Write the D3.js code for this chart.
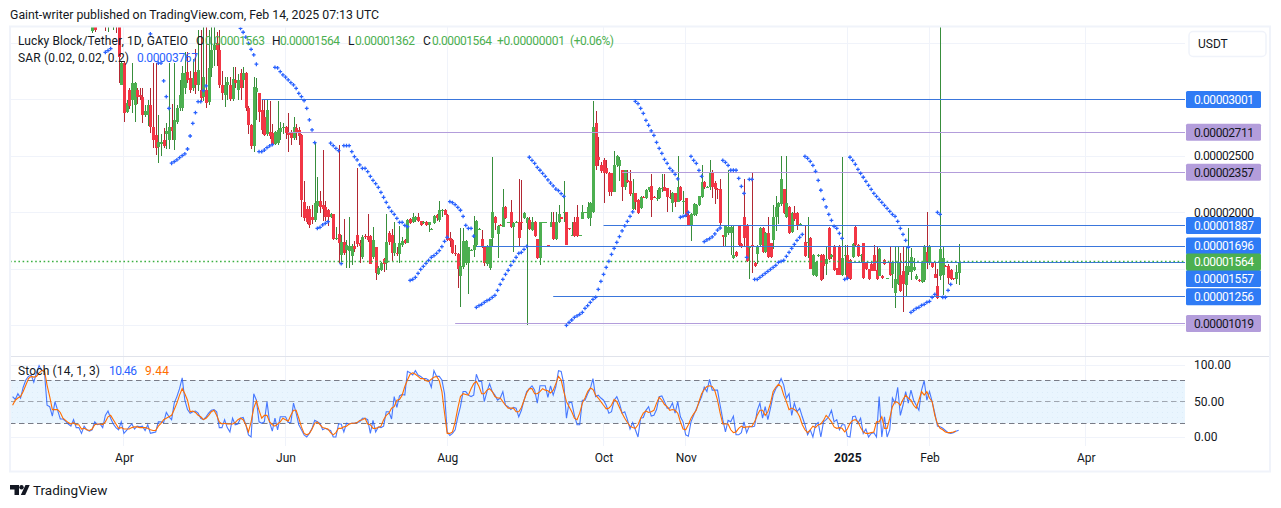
<!DOCTYPE html>
<html><head><meta charset="utf-8">
<script src="https://cdn.jsdelivr.net/npm/d3@7"></script>
<style>html,body{margin:0;padding:0;background:#fff}svg{display:block}text{font-family:Roboto,sans-serif;font-size:12px;fill:#131722}</style>
</head><body><div id="chart"></div>
<script>
// prices are in units of 0.00000001 USDT; bar numbers count days from the left edge of the chart
const firstCandleBar = 30;
const opens = [
3610,3750,3750,3800,3900,3800,3720,3800,3720,3780,
3640,3130,3322,2894,3085,2997,2953,3085,3041,3027,
2864,2864,2953,2761,2687,2584,2610,2643,2700,2643,
2760,2643,2805,2923,2923,3100,3248,3190,3100,3248,
3130,3085,3027,3085,2982,3277,3440,3500,3440,3130,
3041,3130,3130,3003,3174,3085,3233,3174,3233,2923,
2776,2593,3070,3056,2908,2850,2693,2717,2708,2608,
2614,2717,2746,2761,2702,2702,2664,2746,2732,2687,
2091,2030,2030,1964,1935,2059,2106,2068,2053,2023,
1964,1988,1764,1811,1628,1740,1670,1660,1616,1705,
1802,1728,1610,1793,1793,1793,1605,1693,1457,1493,
1587,1551,1817,1802,1640,1640,1634,1714,1758,1734,
1941,1920,1935,1964,1926,1905,1917,1890,1850,1911,
1979,1935,2018,2023,1979,1773,1758,1646,1634,1439,
1522,1551,1551,1664,1669,1714,1852,1767,1699,1546,
1507,1772,1961,1811,1890,1876,2053,1912,2006,1876,
1914,1917,1917,1953,1911,1935,1846,1917,1767,1595,
1912,1912,1711,1876,1917,1767,1914,1961,2001,2006,
1860,1798,1917,1961,1797,1944,2000,1950,1950,2003,
2796,2495,2422,2466,2392,2354,2348,2185,2422,2413,
2377,2230,2289,2283,2029,2171,2112,2038,2141,2133,
2200,2236,2141,2121,2127,2215,2224,2215,2141,2082,
2171,2097,2230,2100,2127,1979,1882,1979,1988,2068,
2141,2274,2224,2230,2363,2260,2209,2209,1799,1787,
1817,1823,1599,1652,1882,1722,1958,1888,1694,1710,
1557,1634,1714,1864,1655,1823,1728,1758,1958,2047,
2076,2206,1958,2047,1832,1994,1994,1893,1808,1743,
1738,1776,1448,1442,1616,1625,1622,1545,1864,1605,
1705,1507,1705,1448,1616,1625,1581,1610,1870,1714,
1619,1731,1557,1498,1546,1625,1492,1442,1442,1581,
1415,1557,1457,1289,1368,1448,1484,1360,1478,1478,
1492,1413,1404,1389,1404,1654,1551,1551,1457,1351,
1442,1448,1530,1528,1492,1419,1413,1463];
const closes = [
3700,3620,3850,3900,3800,3750,3800,3720,3780,3640,
3380,3320,2880,2968,2940,3145,3145,3027,3020,2864,
2900,2953,2761,2643,2569,2628,2628,2593,2720,2761,
2720,2820,2923,3041,3233,3233,3174,3085,3190,3130,
3262,3012,3204,2968,3277,3440,3484,3440,3130,3056,
3130,3160,3003,3183,3145,3174,3100,3233,2923,2776,
2593,3115,3100,2894,2732,2687,2908,2680,2599,2711,
2732,2746,2761,2702,2687,2664,2761,2717,2679,2112,
1950,1920,1890,1935,2083,2106,2053,2032,1964,1964,
1988,1764,1775,1734,1740,1640,1714,1705,1705,1675,
1722,1705,1787,1781,1758,1546,1758,1469,1513,1551,
1546,1740,1740,1640,1728,1634,1728,1749,1734,1935,
1911,1964,1964,1926,1890,1920,1890,1917,1855,1970,
1950,2023,2023,1979,1758,1752,1640,1640,1500,1527,
1749,1749,1693,1669,1714,1929,1857,1699,1551,1705,
1767,2006,1906,1882,1885,2053,1950,1917,1876,1911,
1920,1773,1910,2000,1950,1855,1917,1794,1595,1914,
1917,1917,1706,1914,1770,1914,1988,1947,2006,1714,
1855,1803,1796,1796,1802,2006,2006,2053,2082,2761,
2413,2466,2368,2348,2348,2185,2185,2422,2501,2466,
2230,2377,2274,2165,2177,2097,2000,2141,2135,2200,
2224,2112,2135,2127,2221,2221,2194,2141,2135,2171,
2097,2230,2112,2106,1976,1890,1988,2077,2068,2147,
2274,2224,2230,2363,2230,2206,2203,1905,1787,1882,
1870,1870,1622,1616,1714,1699,1772,1575,1699,1705,
1528,1705,1864,1652,1823,1610,1610,1958,2047,2082,
2295,2000,2082,1823,2000,1941,1891,1899,1802,1616,
1743,1504,1625,1566,1622,1404,1530,1587,1587,1622,
1492,1451,1451,1596,1622,1419,1413,1722,1714,1616,
1625,1422,1498,1413,1487,1487,1413,1678,1419,1546,
1419,1448,1551,1413,1551,1306,1368,1528,1528,1610,
1522,1442,1398,1563,1699,1575,1699,1516,1425,1248,
1678,1599,1525,1419,1413,1413,1472,1564];
const highs = [
3750,3800,3900,3950,3950,3900,3850,3850,3800,3800,
3650,3340,3340,3000,3100,3322,3160,3100,3100,3100,
2950,3000,3100,3322,3322,2860,2700,2746,2790,3322,
2960,3322,2950,3173,3300,3420,3420,3250,3360,3450,
3620,3620,3650,3650,3620,3700,3700,3600,3620,3250,
3204,3200,3200,3290,3290,3230,3270,3290,3240,2940,
2780,3200,3190,3060,3000,3000,3000,2990,2780,2720,
2985,2800,2790,2770,2880,2730,2850,2780,2760,2700,
2280,2060,2060,2068,2613,2312,2190,2555,2100,2032,
2000,1990,1875,2600,1800,1943,1760,1965,1720,1752,
2392,1760,1800,1811,1988,1800,1876,1700,1530,1560,
1600,1988,1838,1852,1920,1693,1882,1787,1770,1945,
1950,2000,1970,2000,1930,1930,1930,1920,1860,1975,
1985,2103,2030,2030,1985,1825,1765,1712,1640,1860,
1860,1760,1700,1675,1970,1935,1860,1846,1705,1710,
1770,2490,1970,1890,1895,2212,2060,1920,2112,1920,
1925,2298,2290,2010,1965,1965,1965,1930,1770,1920,
1920,1920,1715,2006,2006,2006,2065,1965,2280,2010,
1865,1917,1965,2065,1805,2068,2010,2090,2090,2990,
2900,2670,2450,2480,2466,2360,2355,2546,2510,2495,
2380,2380,2380,2380,2300,2175,2120,2150,2145,2210,
2230,2340,2145,2200,2225,2340,2340,2220,2200,2180,
2175,2501,2240,2190,2130,1985,2000,2085,2075,2150,
2423,2280,2240,2466,2378,2280,2215,2295,1800,1890,
2377,1880,1882,1660,1890,1730,2295,1895,1705,2350,
1560,1710,1870,1870,1830,1960,1735,2067,2150,2090,
2500,2210,2501,2060,2010,2055,2008,1905,1810,1882,
1958,1780,1630,1570,1630,1630,1630,1705,1870,1630,
1710,1510,1710,2490,1714,1715,1590,1730,1880,1725,
1630,1735,1565,1505,1555,1710,1700,1685,1450,1590,
1422,1700,1560,1700,1700,1640,1700,1700,1860,1690,
1600,1460,1410,1570,1710,2003,1710,1560,1560,1500,
3700,1700,1535,1545,1500,1425,1540,1722];
const lows = [
3590,3600,3700,3750,3750,3610,3600,3700,3620,3590,
3145,3125,2805,2880,2920,2880,2805,2960,3000,2790,
2850,2770,2702,2570,2510,2442,2500,2570,2560,2560,
2640,2555,2780,2900,2900,3050,3150,3060,3080,3050,
3080,2980,2990,2930,2950,3200,3300,3300,3100,3000,
2932,3000,2990,2990,3100,3000,3000,3100,2900,2700,
2560,2540,2820,2800,2700,2680,2680,2650,2595,2600,
2600,2640,2700,2650,2540,2600,2640,2640,2600,1960,
1930,1900,1867,1900,1920,2000,2000,1930,1930,1885,
1950,1760,1760,1555,1560,1625,1507,1507,1536,1650,
1700,1557,1590,1770,1740,1545,1590,1404,1450,1480,
1478,1493,1713,1575,1616,1616,1550,1700,1725,1730,
1900,1910,1920,1920,1885,1895,1885,1830,1845,1900,
1930,1920,1960,1975,1750,1700,1630,1620,1336,1168,
1500,1540,1280,1660,1610,1700,1845,1690,1530,1530,
1490,1700,1850,1600,1880,1870,1940,1905,1860,1655,
1910,1705,1850,1945,1005,1850,1840,1780,1590,1540,
1905,1905,1700,1870,1760,1760,1905,1940,1915,1710,
1850,1790,1780,1780,1790,1940,1995,1940,1882,2000,
2380,2410,2350,2082,2340,2150,2147,2180,2400,2283,
2106,2200,2260,2150,2020,2020,1990,2030,2130,2120,
2180,1964,2130,2100,2120,2180,2190,2010,2120,2010,
2050,2090,2100,1990,1960,1885,1745,1970,1970,2060,
2130,2210,2220,2200,2127,2080,2120,1890,1700,1705,
1800,1625,1590,1605,1700,1690,1705,1560,1415,1470,
1520,1545,1700,1640,1640,1600,1600,1680,1840,1900,
2060,1990,1950,1810,1820,1930,1850,1885,1795,1610,
1600,1500,1440,1430,1610,1398,1410,1450,1580,1590,
1485,1445,1445,1440,1450,1410,1405,1600,1705,1605,
1560,1415,1490,1405,1480,1480,1405,1435,1412,1540,
1410,1440,1335,1160,1360,1300,1123,1256,1450,1400,
1480,1400,1390,1380,1390,1500,1540,1510,1420,1240,
1400,1270,1520,1370,1405,1405,1365,1362];
const sarFirstBar = 35;
const sarValues = [
3419,3433,3451,null,null,null,null,null,null,null,null,null,null,null,null,null,null,3581,null,null,
3322,3322,3165,3026,2923,2437,2451,2466,2487,2504,2519,2563,2678,2790,2885,2982,2982,3080,3121,
null,null,null,null,null,null,null,null,null,null,null,null,
3631,3596,3552,3498,3445,3395,3313,2540,2540,2554,2575,2590,2602,
3286,3280,3248,3218,3198,3174,3150,3130,3100,3056,3026,2991,2923,2820,2732,2619,
1861,1870,1891,1905,1920,2614,2593,2569,2549,1548,2593,2593,2593,2540,2495,2466,2422,2392,2392,2363,2321,
2286,2257,2224,2180,2136,2091,2047,2012,1985,1950,1914,1914,1888,1876,
1401,1410,1428,1463,1498,1525,1551,1578,1605,1619,1640,1664,1699,1746,1782,
2097,2088,2071,2047,2021,1967,1888,1861,1861,1793,
1162,1177,1189,1206,1221,1233,1250,1268,1313,1366,1410,1454,1490,1534,1569,1605,1640,1649,1675,1702,
2490,2463,2436,2401,2375,2348,2321,2289,2262,2236,2209,2195,2168,2144,
1003,1029,1050,1074,1087,1100,1118,1153,1177,1206,1233,1250,1321,1392,1454,1516,1569,1631,1684,1737,1787,1838,1882,1923,1967,2006,
2985,2965,2923,2879,2817,2773,2723,2684,2622,2569,2525,2472,2436,2392,2369,2339,2298,
1959,1967,1976,2003,2498,2463,2436,2374,2321,
1743,1758,1770,1785,1811,1846,1864,
2463,2445,2419,2375,2375,2375,2304,2233,2171,1604,2295,2295,
1410,1410,1428,1445,1463,1481,1498,1516,1534,1560,1569,1578,1613,1649,1684,1720,1755,1782,1808,
2498,2481,2454,2419,2366,2286,2198,2118,2050,1985,1932,1879,1861,1817,1773,1410,1419,
2490,2463,2428,2383,2348,2313,2277,2242,2206,2171,2144,2118,2091,2065,2038,2012,1985,1967,1923,1861,1808,1755,1693,
1118,1136,1153,1162,1180,1189,1206,1215,1251,1277,2003,1985,1251,1251,1312,1366];
const stochK = [
57,53,61,55,70,80,85,87,77,90,100,93,92,45,43,30,50,38,26,26,23,19,16,25,14,14,6,16,11,9,11,22,18,19,14,31,37,27,19,14,
11,22,6,10,15,19,12,16,15,16,10,18,6,7,8,22,22,21,35,29,25,48,57,68,83,52,39,34,36,37,34,27,25,29,34,38,39,36,14,14,
25,14,8,27,18,19,27,28,18,4,1,61,52,22,20,22,50,21,9,27,11,29,29,29,21,21,48,34,18,11,4,1,6,13,24,22,20,11,13,11,
10,1,1,19,19,8,20,19,20,20,21,22,27,27,25,6,24,8,15,14,16,36,36,26,57,42,58,60,59,92,90,87,93,87,85,82,82,80,70,93,
85,85,80,61,8,3,6,11,29,43,64,64,59,57,59,88,78,78,50,64,75,64,59,52,
55,64,45,43,39,42,41,29,38,52,64,68,72,66,48,72,72,72,56,72,59,71,93,92,75,27,49,49,31,18,18,52,52,61,68,82,57,59,55,52,
45,34,36,52,57,48,34,36,25,12,21,11,1,27,28,38,43,30,31,39,57,58,50,41,41,48,34,50,29,22,4,2,22,31,40,48,57,70,64,81,66,
66,66,45,25,8,24,22,30,4,4,7,22,7,16,15,16,38,48,27,43,25,41,59,68,73,82,73,55,61,31,48,36,41,29,18,4,11,1,18,21,
1,22,25,29,38,22,25,11,18,18,2,1,29,30,20,27,6,12,1,6,7,1,57,1,29,1,11,55,48,70,31,45,64,48,66,52,45,38,66,79,
52,64,50,34,16,15,13,10,7,6,7,9,10.46];
const stochD = [
45,52,55,57,64,73,82,85,84,85,90,93,94,73,57,39,39,39,35,27,24,21,19,21,18,18,12,13,11,10,12,18,19,19,18,22,29,31,25,19,
13,14,12,12,12,14,15,15,14,14,14,13,11,10,10,16,20,25,27,29,31,39,48,59,68,61,52,36,37,35,31,29,25,27,31,36,38,31,22,19,
20,19,19,19,21,25,27,25,18,8,22,41,51,38,27,31,31,22,18,16,19,22,27,25,23,31,38,38,27,15,6,4,6,12,20,22,18,14,13,12,
7,4,7,13,13,15,16,19,20,20,21,24,25,27,19,18,13,13,14,16,25,31,34,41,43,52,53,59,71,80,88,90,88,85,82,82,79,78,81,84,
85,79,64,34,6,6,8,22,41,57,61,60,59,68,75,78,71,61,61,66,68,64,57,
55,55,50,45,41,41,41,36,36,42,52,62,68,68,61,61,64,68,66,65,62,66,75,85,80,64,50,43,36,27,25,34,48,55,64,69,67,59,55,50,
45,40,41,45,53,50,42,34,27,21,16,14,13,18,27,34,37,35,36,38,48,56,52,46,43,38,39,38,34,22,12,11,18,27,33,38,50,61,67,71,72,
71,65,52,34,19,19,19,11,7,8,13,16,14,15,15,16,22,31,38,38,31,36,48,64,70,74,71,59,50,39,41,39,36,29,18,11,7,11,16,14,
18,19,24,31,27,22,15,13,14,13,8,12,20,24,25,22,14,8,6,6,7,8,22,22,29,13,13,27,43,50,49,45,53,59,55,52,45,41,52,64,
59,64,55,50,31,19,13,11,8,7,7,8,9.44];
const priceGridValues = [3500,3000,2500,2000,1500,1000];
const priceTickValues = [2500,2000];
const priceTickLabels = ["0.00002500","0.00002000"];
const levelValues = [3001,2711,2357,1887,1696,1256,1019,1557];
const levelStartBars = [94,104,230,223,175,204,167,315];
const levelKinds = ["blue","purple","purple","blue","blue","blue","purple","blue"];
const levelFlagShifts = [0,0,0,0,-1,0,0,15.7];
const lastPrice = 1564;
const stochTickValues = [100,50,0];
const stochLevels = [80,50,20];
const monthBars = [42,103,164,223,254,315,346,405];
const monthLabels = ["Apr","Jun","Aug","Oct","Nov","2025","Feb","Apr"];

const W=1281,H=508,pL=10,pR=1185,pT=27,pB=356.5,sT=357.5,sB=446;
const colors={up:"#4caf50",upW:"#388e3c",dn:"#f23645",dnW:"#b22833",blue:"#2962ff",levelBlue:"#3a76dc",labelBlue:"#2f7bf5",purple:"#b39ddb",orange:"#ff6d00",grid:"#f0f3fa"};
const x=d3.scaleLinear().domain([0,442]).range([12.6,12.6+2.65*442]);
const y=d3.scaleLinear().domain([1019,3001]).range([323.5,99.5]);
const ys=d3.scaleLinear().domain([0,100]).range([437.7,365.6]);
const fmt=v=>(v*1e-8).toFixed(8);
const px=v=>Math.floor(v)+0.5;

const svg=d3.select("#chart").append("svg").attr("width",W).attr("height",H);
const defs=svg.append("defs");
defs.append("clipPath").attr("id","cp").append("rect").attr("x",pL).attr("y",pT).attr("width",pR-pL).attr("height",pB-pT);
defs.append("clipPath").attr("id","cs").append("rect").attr("x",pL).attr("y",sT).attr("width",pR-pL).attr("height",sB-sT);
const pat=defs.append("pattern").attr("id","dots").attr("width",5).attr("height",5).attr("patternUnits","userSpaceOnUse");
pat.append("rect").attr("width",5).attr("height",5).attr("fill","#e9f5fe");
pat.append("rect").attr("x",2).attr("y",2).attr("width",1).attr("height",1).attr("fill","#dcecf9");

svg.append("text").attr("x",10).attr("y",19).text("Gaint-writer published on TradingView.com, Feb 14, 2025 07:13 UTC").style("font-size","12.3px");

// grid
const grid=svg.append("g").attr("stroke",colors.grid);
grid.selectAll(".h").data(priceGridValues).join("line").attr("x1",pL).attr("x2",pR).attr("y1",d=>px(y(d))).attr("y2",d=>px(y(d)));
grid.selectAll(".v").data(monthBars).join("line").attr("x1",d=>px(x(d))).attr("x2",d=>px(x(d))).attr("y1",pT).attr("y2",sB);
grid.selectAll(".s").data(stochTickValues).join("line").attr("x1",pL).attr("x2",pR).attr("y1",d=>px(ys(d))).attr("y2",d=>px(ys(d)));

// candles
const main=svg.append("g").attr("clip-path","url(#cp)");
const bars=d3.range(opens.length);
const bx=i=>Math.round(x(i+firstCandleBar));
main.append("g").attr("shape-rendering","crispEdges").selectAll("rect").data(bars).join("rect")
 .attr("x",i=>bx(i)).attr("width",1).attr("y",i=>y(highs[i])).attr("height",i=>Math.max(1,y(lows[i])-y(highs[i])))
 .attr("fill",i=>closes[i]>=opens[i]?colors.upW:colors.dnW);
main.append("g").attr("shape-rendering","crispEdges").selectAll("rect").data(bars).join("rect")
 .attr("x",i=>bx(i)-1).attr("width",3).attr("y",i=>y(Math.max(opens[i],closes[i])))
 .attr("height",i=>Math.max(1,Math.abs(y(opens[i])-y(closes[i]))))
 .attr("fill",i=>closes[i]>=opens[i]?colors.up:colors.dn);
// levels
const lv=main.append("g");
lv.selectAll("line").data(levelValues).join("line")
 .attr("x1",(d,i)=>x(levelStartBars[i])).attr("x2",pR).attr("y1",d=>px(y(d))).attr("y2",d=>px(y(d)))
 .attr("stroke",(d,i)=>levelKinds[i]==="blue"?colors.levelBlue:colors.purple);
main.append("line").attr("x1",pL).attr("x2",pR).attr("y1",px(y(lastPrice))).attr("y2",px(y(lastPrice)))
 .attr("stroke","#3cb043").attr("stroke-width",1.4).attr("stroke-dasharray","1.6 2.6");
// SAR
const plus=d3.symbol().type(d3.symbolCross).size(8)();
main.append("g").selectAll("path").data(sarValues.map((v,i)=>({v,i})).filter(d=>d.v!==null)).join("path")
 .attr("d",plus).attr("fill",colors.blue).attr("transform",d=>`translate(${x(d.i+sarFirstBar)},${y(d.v)})`);

// stoch pane
const st=svg.append("g").attr("clip-path","url(#cs)");
st.append("rect").attr("x",pL).attr("width",pR-pL).attr("y",ys(80)).attr("height",ys(20)-ys(80)).attr("fill","url(#dots)");
st.selectAll(".l").data(stochLevels).join("line").attr("x1",pL).attr("x2",pR).attr("y1",d=>px(ys(d))).attr("y2",d=>px(ys(d)))
 .attr("stroke","#787b86").attr("stroke-opacity",d=>d===50?.65:1).attr("stroke-dasharray","5.5 3.5");
const line=d3.line().x((d,i)=>x(i)).y(d=>ys(d));
st.append("path").attr("d",line(stochK)).attr("fill","none").attr("stroke",colors.blue).attr("stroke-opacity",.85).attr("stroke-width",1.1);
st.append("path").attr("d",line(stochD)).attr("fill","none").attr("stroke",colors.orange).attr("stroke-width",1.1);

// divider + frame
svg.append("line").attr("x1",pL).attr("x2",1270).attr("y1",356.5).attr("y2",356.5).attr("stroke","#e0e3eb");
svg.append("rect").attr("x",10).attr("y",26.5).attr("width",1260).attr("height",445).attr("fill","none").attr("stroke",colors.grid).attr("stroke-width",2);

// legends
const lg=svg.append("g");
function t(xp,yp,s,c,w){const e=lg.append("text").attr("x",xp).attr("y",yp).text(s).style("fill",c||"#131722");if(w)e.attr("textLength",w).attr("lengthAdjust","spacing");}
t(18,45,"Lucky Block/Tether, 1D, GATEIO",null,170);
t(196,45,"O");t(205,45,"0.00001563",colors.up,60);
t(272,45,"H");t(280,45,"0.00001564",colors.up,60);
t(348,45,"L");t(355,45,"0.00001362",colors.up,60);
t(423,45,"C");t(432,45,"0.00001564",colors.up,60);
t(497,45,"+0.00000001",colors.up,68);t(570,45,"(+0.06%)",colors.up,44);
t(18,62,"SAR (0.02, 0.02, 0.2)",null,111);t(137,62,"0.00003767",colors.blue,61);
t(18,375,"Stoch (14, 1, 3)",null,82);t(109,375,"10.46",colors.blue,28);t(145,375,"9.44",colors.orange,24);

// axes
const xa=svg.append("g").attr("transform",`translate(0,${sB})`).call(d3.axisBottom(x).tickValues(monthBars).tickFormat((d,i)=>monthLabels[i]).tickSize(0).tickPadding(7));
xa.select(".domain").remove();
xa.selectAll("text").style("font-size","12px").style("font-family","Roboto,sans-serif").style("fill","#131722").style("font-weight",(d,i)=>monthLabels[i]==="2025"?"700":"400");
const ya=svg.append("g").attr("transform","translate(1194,0)").call(d3.axisRight(y).tickValues(priceTickValues).tickFormat((d,i)=>priceTickLabels[i]).tickSize(0).tickPadding(0));
ya.select(".domain").remove();
ya.selectAll("text").style("font-size","12px").style("font-family","Roboto,sans-serif").style("fill","#131722").attr("textLength",60).attr("lengthAdjust","spacing");
const sa=svg.append("g").attr("transform","translate(1194,0)").call(d3.axisRight(ys).tickValues(stochTickValues).tickFormat(d3.format(".2f")).tickSize(0).tickPadding(0));
sa.select(".domain").remove();
sa.selectAll("text").style("font-size","12px").style("font-family","Roboto,sans-serif").style("fill","#131722").attr("transform",(d,i)=>d===0?"translate(0,-1)":d===100?"translate(0,-.5)":null);

// price flags
const flagValues=[...levelValues.map((v,i)=>({v,k:levelKinds[i],shift:levelFlagShifts[i]})),{v:lastPrice,k:"green",shift:0}];
const fg=svg.append("g");
flagValues.forEach(f=>{
 const yc=y(f.v)+f.shift;
 const c=f.k==="green"?colors.up:f.k==="blue"?colors.labelBlue:colors.purple;
 fg.append("rect").attr("x",1186).attr("y",yc-8.5).attr("width",75).attr("height",17).attr("rx",1.5).attr("fill",c);
 fg.append("text").attr("x",1194).attr("y",yc+4.3).attr("textLength",60).attr("lengthAdjust","spacing").text(fmt(f.v)).style("fill",f.k==="purple"?"#131722":"#fff");
});

// currency box
svg.append("rect").attr("x",1189).attr("y",31.5).attr("width",77).attr("height",25).attr("rx",4).attr("fill","#fff").attr("stroke",colors.grid).attr("stroke-width",1.5);
svg.append("text").attr("x",1198).attr("y",48).text("USDT");

// logo
const logo=svg.append("g").attr("fill","#131722");
logo.append("path").attr("d","M10 485H19V495H14.5V489.5H10Z");
logo.append("circle").attr("cx",21.5).attr("cy",487.2).attr("r",2.2);
logo.append("path").attr("d","M25.5 485H29.7L25.2 495H20.8Z");
svg.append("text").attr("x",33).attr("y",495).text("TradingView").style("font-size","13.5px");
</script></body></html>
